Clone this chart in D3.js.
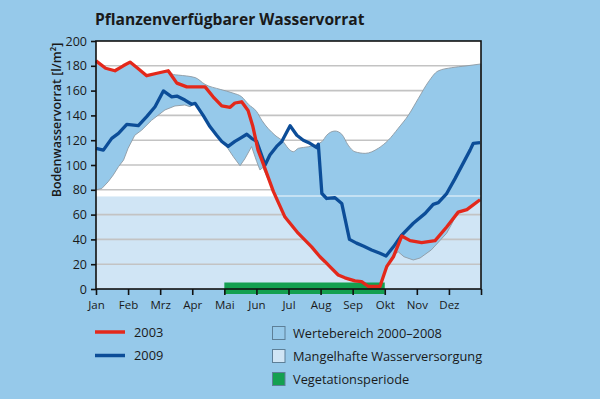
<!DOCTYPE html>
<html>
<head>
<meta charset="utf-8">
<script src="https://cdn.jsdelivr.net/npm/d3@7"></script>
<style>
  html, body { margin: 0; padding: 0; background: #96c9ea; }
  svg { display: block; }
  text { font-family: "Open Sans", "Noto Sans", sans-serif; fill: #1a1a1a; }
</style>
</head>
<body>
<svg id="chart" width="600" height="399"></svg>
<script>
// ---------- DATA ----------
const monthLabels = ["Jan","Feb","Mrz","Apr","Mai","Jun","Jul","Aug","Sep","Okt","Nov","Dez"];
const yTicks = [0,20,40,60,80,100,120,140,160,180,200];

// [month (0 = 1 Jan, 12 = 31 Dec), value l/m²]
const series2003 = [
  [0,184],[0.3,178],[0.59,176],[0.85,180],[1.06,183],[1.3,178],[1.58,172],[1.9,174],[2.25,176],
  [2.52,166],[2.83,163],[3.4,163],[3.65,155],[3.92,147.6],[4.18,146.5],[4.33,150],[4.54,151],
  [4.74,144],[4.89,131],[5.05,112],[5.17,104],[5.53,78.5],[5.89,58],[6.3,45],[6.72,34],
  [6.98,26],[7.14,22],[7.29,18],[7.55,11.3],[7.76,9],[8.07,6.5],[8.28,6],[8.49,2],[8.85,2],
  [9.06,18],[9.27,26],[9.53,42.7],[9.79,39],[10.15,37.4],[10.57,39],[10.93,50],[11.29,62],
  [11.56,64],[11.97,72]
];
const series2009 = [
  [0,113.4],[0.23,112],[0.49,121.5],[0.7,125.5],[0.96,132.8],[1.32,131.7],[1.58,139],[1.84,147],
  [2.1,159.7],[2.36,155],[2.52,155.6],[2.77,152.4],[2.98,149],[3.09,149.7],[3.34,140],[3.55,131],
  [3.76,124],[3.92,119],[4.12,115],[4.33,119],[4.49,121.5],[4.7,124.8],[4.85,121.5],[5.01,119],
  [5.27,100],[5.42,108],[5.63,115],[5.79,119],[6.05,131.7],[6.26,124],[6.46,120],[6.67,117.5],
  [6.88,114],[6.93,116.7],[7.04,77],[7.19,73],[7.45,73.6],[7.66,69],[7.9,40],[8.12,37],
  [8.33,34.7],[8.59,31.5],[8.85,28.8],[9.04,26.6],[9.27,34],[9.53,43.5],[9.89,53],[10.26,61],
  [10.51,68.3],[10.67,69.6],[10.93,77],[11.19,89],[11.66,112],[11.76,117.5],[11.97,118]
];
const rangeUpper = [
  [0,184],[0.3,178],[0.59,176],[0.85,180],[1.06,183],[1.3,178],[1.58,172],[1.9,174],[2.25,176],
  [2.41,173],[2.57,172.5],[3.09,170.5],[3.4,165],[3.87,161],[4.27,158],[4.54,155],[4.75,149],
  [5.01,143],[5.17,136],[5.58,124],[5.83,119],[5.99,113.5],[6.15,110.7],[6.31,113.5],[6.62,114.7],
  [7.04,118.8],[7.19,124],[7.45,127.4],[7.66,124.8],[7.86,116],[8.07,110.7],[8.39,109.4],
  [8.8,113.5],[9.11,120],[9.42,129.6],[9.74,140.3],[10.05,153.8],[10.36,167],[10.66,175.8],
  [11.09,178.5],[11.5,179.8],[12,181.5]
];
const rangeLower = [
  [0,80],[0.18,81],[0.38,86.5],[0.54,92],[0.7,98.6],[0.86,104],[1.0,113.5],[1.21,124],[1.42,128],
  [1.73,136],[2.15,144.4],[2.46,147.6],[2.77,148.4],[2.93,147],[3.09,149.7],[3.34,140],[3.55,131],
  [3.76,123],[3.97,118.8],[4.28,106.7],[4.49,99.4],[4.64,105],[4.85,114.8],[5.01,102.7],[5.11,96],
  [5.2,98],[5.53,78.5],[5.89,58],[6.3,45],[6.72,34],[6.98,26],[7.14,22],[7.29,18],[7.55,11.3],
  [7.76,9],[8.07,6.5],[8.28,6],[8.49,2],[8.85,2],[9.06,18],[9.3,28],[9.42,30],[9.6,26],[9.89,23.4],
  [10.1,25],[10.45,31.5],[10.93,45],[11.1,53],[11.25,61],[11.29,62],[11.56,64],[11.97,72],[12,72.2]
];
const deficitLimit = 75;           // Mangelhafte Wasserversorgung: 0 .. 75
const vegetationPeriod = [4, 9];   // Mai .. Ende Sep

const legendLines = [["2003","#e3281b"],["2009","#0c4d98"]];
const legendBoxes = [["Wertebereich 2000–2008","#96c9ea"],["Mangelhafte Wasserversorgung","#d0e5f5"],["Vegetationsperiode","#14a050"]];

// ---------- DRAW ----------
const svg = d3.select("#chart");
const x = d3.scaleLinear().domain([0,12]).range([96,481]);
const y = d3.scaleLinear().domain([0,200]).range([289,41]);

const C = { bg:"#96c9ea", range:"#96c9ea", band:"#d0e5f5", red:"#e3281b", blue:"#0c4d98", green:"#14a050", grid:"#c3c3c3", outline:"#8e9aa3" };

svg.append("rect").attr("width",600).attr("height",399).attr("fill",C.bg);

// plot background
svg.append("rect").attr("x",x(0)).attr("y",y(200)).attr("width",x(12)-x(0)).attr("height",y(0)-y(200)).attr("fill","#fff");
// deficit band
svg.append("rect").attr("x",x(0)).attr("y",y(deficitLimit)).attr("width",x(12)-x(0)).attr("height",y(0)-y(deficitLimit)).attr("fill",C.band);

// gridlines
svg.append("g").selectAll("line").data(yTicks.filter(d=>d>0&&d<200)).join("line")
  .attr("x1",x(0)).attr("x2",x(12)).attr("y1",d=>y(d)).attr("y2",d=>y(d))
  .attr("stroke",C.grid).attr("stroke-width",1.6);

// range area
const upperLine = d3.line().x(d=>x(d[0])).y(d=>y(d[1])).curve(d3.curveMonotoneX);
const lowerLine = d3.line().x(d=>x(d[0])).y(d=>y(d[1])).curve(d3.curveLinear);
const areaPath = upperLine(rangeUpper) + lowerLine(rangeLower.slice().reverse()).replace(/^M/,"L") + "Z";
svg.append("path").attr("d",areaPath).attr("fill",C.range).attr("stroke",C.outline).attr("stroke-width",0.9).attr("stroke-linejoin","round");

// deficit limit line over range
svg.append("line").attr("x1",x(0)).attr("x2",x(12)).attr("y1",y(deficitLimit)).attr("y2",y(deficitLimit))
  .attr("stroke","#ffffff").attr("stroke-opacity",0.6).attr("stroke-width",1.6);

// vegetation period bar
svg.append("rect").attr("x",x(vegetationPeriod[0])).attr("y",y(0)-6.5).attr("width",x(vegetationPeriod[1])-x(vegetationPeriod[0])).attr("height",11.5)
  .attr("fill",C.green);

// series lines
const sLine = d3.line().x(d=>x(d[0])).y(d=>y(d[1])).curve(d3.curveLinear);
svg.append("path").attr("d",sLine(series2009)).attr("fill","none").attr("stroke",C.blue).attr("stroke-width",3.3).attr("stroke-linejoin","round");
svg.append("path").attr("d",sLine(series2003)).attr("fill","none").attr("stroke",C.red).attr("stroke-width",3.3).attr("stroke-linejoin","round");

// frame
svg.append("rect").attr("x",x(0)).attr("y",y(200)).attr("width",x(12)-x(0)).attr("height",y(0)-y(200))
  .attr("fill","none").attr("stroke","#111").attr("stroke-width",1.6);

// axes
const yAxis = d3.axisLeft(y).tickValues(yTicks).tickSize(5).tickPadding(4);
const gy = svg.append("g").attr("transform",`translate(${x(0)},0)`).call(yAxis);
gy.select(".domain").remove();
gy.selectAll("line").attr("stroke","#111").attr("stroke-width",1.6);
gy.selectAll("text").attr("font-size",12.5).attr("fill","#1a1a1a").style("font-family",'"Open Sans", sans-serif');

const xAxis = d3.axisBottom(x).tickValues(d3.range(0,13)).tickSize(6).tickPadding(6).tickFormat(d=>d<12?monthLabels[d]:"");
const gx = svg.append("g").attr("transform",`translate(0,${y(0)})`).call(xAxis);
gx.select(".domain").remove();
gx.selectAll("line").attr("stroke","#111").attr("stroke-width",1.6);
gx.selectAll("text").attr("font-size",11.5).attr("fill","#1a1a1a").style("font-family",'"Open Sans", sans-serif');

// title
svg.append("text").attr("x",95).attr("y",25).attr("font-size",15.6).attr("font-weight",700).text("Pflanzenverfügbarer Wasservorrat");

// y label
svg.append("text").attr("transform","translate(61,120) rotate(-90)").attr("text-anchor","middle")
  .attr("font-size",12.5).attr("font-weight",600).text("Bodenwasservorrat [l/m²]");

// legend
const lg = svg.append("g");
legendLines.forEach((d,i)=>{
  const yy = 332 + i*23.5;
  lg.append("line").attr("x1",95).attr("x2",125).attr("y1",yy).attr("y2",yy).attr("stroke",d[1]).attr("stroke-width",3.5);
  lg.append("text").attr("x",134).attr("y",yy+4.5).attr("font-size",12.8).text(d[0]);
});
legendBoxes.forEach((d,i)=>{
  const yy = 333 + i*23;
  lg.append("rect").attr("x",272.5).attr("y",yy-6.5).attr("width",12.5).attr("height",13).attr("fill",d[1]).attr("stroke","#5d7f97").attr("stroke-width",1);
  lg.append("text").attr("x",293).attr("y",yy+4.5).attr("font-size",12.8).text(d[0]);
});
</script>
</body>
</html>
